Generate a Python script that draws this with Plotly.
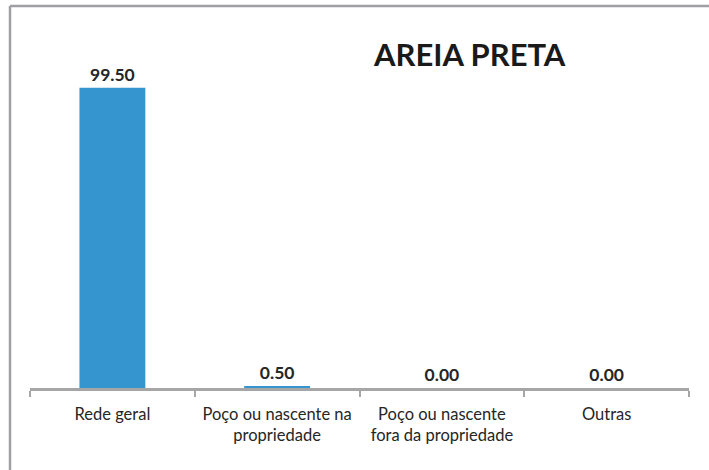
import plotly.graph_objects as go

categories = ["Rede geral", "Poço ou nascente na<br>propriedade", "Poço ou nascente<br>fora da propriedade", "Outras"]
values = [99.50, 0.50, 0.00, 0.00]
labels = ["99.50", "0.50", "0.00", "0.00"]
title_text = "AREIA PRETA"

W, H = 709, 470
ml, mr, mt, mb = 30, 20, 26, 82
pw, ph = W - ml - mr, H - mt - mb

def px_x(x):
    return (x - ml) / pw

def px_y(y):
    return (H - mb - y) / ph

FONT = "Lato, Open Sans, sans-serif"

fig = go.Figure(go.Bar(
    x=categories, y=values,
    marker=dict(color="#3595CE", line=dict(width=0)),
    width=0.4,
    text=labels, textposition="outside",
    textfont=dict(family=FONT, size=17.5, color="#262626", weight="bold"),
    cliponaxis=False,
))

fig.update_layout(
    width=W, height=H,
    margin=dict(l=ml, r=mr, t=mt, b=mb),
    paper_bgcolor="white", plot_bgcolor="white",
    showlegend=False,
    bargap=0.6,
    font=dict(family=FONT, color="#262626"),
    annotations=[dict(
        text="<b>" + title_text + "</b>", x=px_x(469), y=px_y(54),
        xref="paper", yref="paper", xanchor="center", yanchor="middle",
        showarrow=False, font=dict(family=FONT, size=31, color="#1a1a1a"),
    )],
    shapes=[
        dict(type="line", xref="paper", yref="paper", x0=px_x(10), x1=px_x(712), y0=px_y(6), y1=px_y(6),
             line=dict(color="#a0a0a4", width=2.5)),
        dict(type="line", xref="paper", yref="paper", x0=px_x(10), x1=px_x(10), y0=px_y(6), y1=px_y(472),
             line=dict(color="#a0a0a4", width=2.5)),
    ],
)

fig.update_xaxes(
    showline=True, linecolor="#a6a6a6", linewidth=2.5,
    ticks="outside", tickson="boundaries", ticklen=6, tickcolor="#a6a6a6", tickwidth=2,
    tickfont=dict(family=FONT, size=16.5, color="#262626"),
    ticklabelstandoff=9,
    showgrid=False,
)
fig.update_yaxes(range=[0, 120], visible=False, showgrid=False)

fig.write_html("out.html", config={"displayModeBar": False},
               post_script="document.body.style.margin='0';document.body.style.overflow='hidden';")
